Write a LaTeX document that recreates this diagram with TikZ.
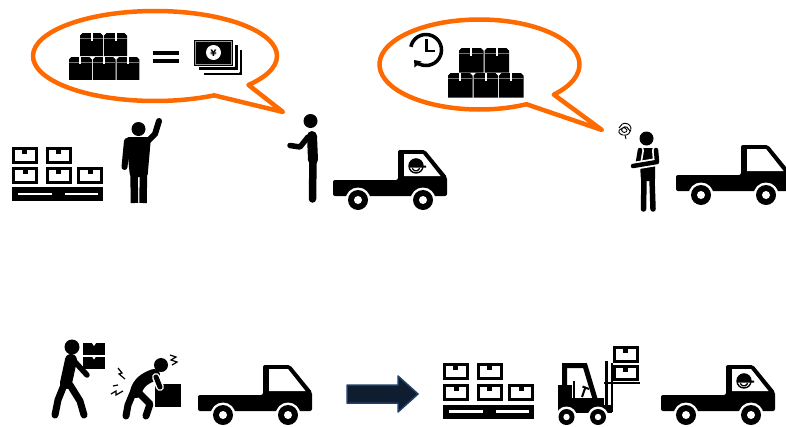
\documentclass[tikz,border=0pt]{standalone}
\usepackage{fontspec}
\newfontfamily\yenfont{DejaVu Sans}
\usetikzlibrary{arrows.meta}
\definecolor{bubbleorange}{HTML}{FF6A00}
\definecolor{navyfill}{HTML}{0F1D30}
\definecolor{navyedge}{HTML}{203F68}

\tikzset{
  speech/.style={draw=bubbleorange,line width=4.5pt,fill=white,line join=round},
  limb/.style={draw=black,line width=#1,line cap=round,line join=round},
  limb/.default=6pt,
  halo/.style={draw=white,line width=#1,line cap=round,line join=round},
  halo/.default=8pt,
  pain/.style={draw=black,line width=1.2pt,line join=miter},
}

% open crate: black frame, white inside, small tab at the top
\newcommand\OpenCrate[4]{%
  \begin{scope}[shift={(#1,#2)}]
    \fill[black] (0,0) rectangle (#3,#4);
    \fill[white] (3,3) rectangle (#3-3,#4-3);
    \fill[black] (#3/2-2.5,3) rectangle (#3/2+2.5,6.5);
  \end{scope}}

% closed carton with lid line and tape mark
\newcommand\ClosedCrate[3]{%
  \begin{scope}[shift={(#1,#2)},scale=#3/23]
    \fill[black] (0,2.5) -- (2.5,0) -- (20.5,0) -- (23,2.5) -- (23,23) -- (0,23) -- cycle;
    \draw[white!45!black,line width=0.8pt] (0.3,5) -- (22.7,5);
    \fill[white] (10.5,0) rectangle (12.5,7.5);
  \end{scope}}

% stacked crates on a pallet
\newcommand\PalletStack[3]{%
  \begin{scope}[shift={(#1,#2)},yscale=#3]
    \OpenCrate{0}{0}{25.5}{16.5}
    \OpenCrate{34}{0}{25.5}{16.5}
    \OpenCrate{0}{20}{26}{17}
    \OpenCrate{33.5}{20}{26}{17}
    \OpenCrate{65}{20}{26}{17}
    \fill[black] (0,40) rectangle (91,54);
    \fill[white] (6,45.5) rectangle (40,48);
    \fill[white] (53,45.5) rectangle (86,48);
  \end{scope}}

% wheel with a white ring and hub
\newcommand\Wheel[3]{%
  \fill[white] (#1,#2) circle[radius=#3+2.5];
  \fill[black] (#1,#2) circle[radius=#3];
  \fill[white] (#1,#2) circle[radius=#3*0.4];}

% pickup truck, origin at the top-left of the bed
\newcommand\Truck[2]{%
  \begin{scope}[shift={(#1,#2)}]
    \fill[black,rounded corners=2pt] (0,0) -- (65,0) -- (65,-30) -- (92,-30)
      -- (114,-3) -- (114,16) -- (0,16) -- cycle;
    \fill[white] (71,-26) -- (90,-26) -- (107.5,-4) -- (71,-4) -- cycle;
    \Wheel{25}{20}{10}
    \Wheel{90}{20}{10}
  \end{scope}}

% driver with a cap, seen through the cab window
\newcommand\Driver[2]{%
  \begin{scope}[shift={(#1,#2)}]
    \fill[white] (83,-14) circle[radius=8.5];
    \draw[black,line width=1.4pt] (83,-14) circle[radius=7];
    \fill[black] (76,-14.5) arc[start angle=180,end angle=360,radius=7]
      -- (93,-14.5) -- (93,-12.5) -- (76,-12.5) -- cycle;
    \draw[black,line width=1.3pt] (83,-13) ++(160:4) arc[start angle=160,end angle=20,radius=4];
  \end{scope}}

\begin{document}
\begin{tikzpicture}[x=1pt,y=-1pt,line join=round]
\useasboundingbox (0,0) rectangle (786,426);
\fill[white] (0,0) rectangle (786,426);

% ---------- speech bubbles ----------
\draw[speech] (155,56) ++(40:122 and 45)
  arc[start angle=40,end angle=-299,x radius=122,y radius=45] -- (283,112) -- cycle;
\draw[speech] (479.5,64.5) ++(42:100 and 45)
  arc[start angle=42,end angle=-298,x radius=100,y radius=45] -- (602,130) -- cycle;

% cartons = money
\ClosedCrate{80}{33}{23}
\ClosedCrate{104}{33}{23}
\ClosedCrate{69}{57}{22.8}
\ClosedCrate{92.8}{57}{22.8}
\ClosedCrate{116.6}{57}{22.8}
\fill[black] (153,51) rectangle (179,55);
\fill[black] (153,58.5) rectangle (179,62.5);
\fill[black,draw=white,line width=2.4pt] (202.5,48.5) rectangle (243.5,76);
\fill[black,draw=white,line width=2.4pt] (198,44) rectangle (239,71.5);
\fill[black,draw=white,line width=1.2pt] (193,39) rectangle (234,66.5);
\draw[white!60!black,line width=0.5pt] (195.5,41.5) rectangle (231.5,64);
\fill[white] (213.5,52.5) circle[radius=7.5];
\node[inner sep=0pt,font=\yenfont\bfseries\fontsize{9}{9}\selectfont] (yen) at (213.5,52.8) {¥};

% clock and cartons
\draw[black,line width=3.5pt,-{Triangle[length=6pt,width=9pt]}]
  (426,50) ++(192:15.5) arc[start angle=192,end angle=500,radius=15.5];
\draw[black,line width=2.6pt,line cap=butt,line join=miter] (426.5,39) -- (426.5,51) -- (435,51);
\ClosedCrate{459}{48}{24.5}
\ClosedCrate{484.5}{48}{24.5}
\ClosedCrate{448}{73}{24.5}
\ClosedCrate{473.5}{73}{24.5}
\ClosedCrate{499}{73}{24.5}

% ---------- upper row ----------
\PalletStack{12}{147}{1}

% waving worker
\fill[black] (138.5,129) circle[radius=7];
\fill[black,rounded corners=3pt] (126,137) -- (151,137) -- (147.5,177) -- (130,177) -- cycle;
\draw[black,line width=7.5pt] (134,172) -- (134.5,203);
\draw[black,line width=7.5pt] (143.5,172) -- (143,203);
\draw[limb=6pt] (127,141) -- (124.5,167);
\draw[limb=6pt] (147,142) -- (155,134) -- (159,121);

% worker handing over
\fill[black] (310.5,121) circle[radius=7];
\draw[limb=10pt] (312,136) -- (313,160);
\draw[limb=7.5pt] (313,158) -- (312.5,199);
\draw[limb=5.5pt] (308,137) -- (300,147) -- (290,145.5);

\Truck{333}{180}
\Driver{333}{180}

% puzzled worker
\draw[black,line width=0.9pt,rounded corners=1.5pt]
  (619,128) -- (623,123) -- (629,124) -- (631.5,129) -- (628,135) -- (621,135)
  -- (618,131) -- (624,127) -- (628,131) -- (623,133) -- (621,129) -- (626,126)
  -- (630,131);
\draw[black,line width=0.9pt] (625,135) -- (626,139);
\fill[black] (646.5,138.5) circle[radius=7];
\fill[black,rounded corners=2pt] (639,148) -- (655,148) -- (655,181) -- (641,181) -- cycle;
\draw[limb=5.5pt] (644,179) -- (643.5,209);
\draw[limb=5.5pt] (652,179) -- (653,209);
\draw[halo=8pt] (637.5,165) -- (640,150);
\draw[limb=4.5pt] (637.5,165) -- (640,150);
\draw[halo=8pt] (656,150) -- (657,162) -- (633,166);
\draw[limb=4.5pt] (656,150) -- (657,162) -- (633,166);

\Truck{676}{175}

% ---------- lower row ----------
% worker carrying cartons
\fill[black] (72,347) circle[radius=7.5];
\draw[limb=12pt] (71,360) -- (66,383);
\draw[limb=7pt] (64,385) -- (58,400) -- (55,415);
\draw[limb=7pt] (70,385) -- (80,401) -- (84,415);
\draw[limb=5.5pt] (75,362) -- (87,375);
\fill[black] (83,343) rectangle (105,355);
\fill[black] (83,356.5) rectangle (105,368.5);
\fill[white] (92,343) -- (96,343) -- (94,346) -- cycle;
\fill[white] (92,356.5) -- (96,356.5) -- (94,359.5) -- cycle;

% worker with back pain
\fill[black] (155,384) rectangle (181,407);
\fill[black] (161,365) circle[radius=7];
\draw[limb=12pt] (154,375) .. controls (145,378) and (138,383) .. (136,392);
\draw[limb=7pt] (133,393) -- (128,405) -- (126,416);
\draw[limb=7pt] (140,394) -- (150,404) -- (146,416);
\draw[halo=8pt] (156,377) -- (160,387);
\draw[limb=5pt] (156,377) -- (160,387);
\draw[pain] (118,368) -- (122,373) -- (119,374) -- (125,379);
\draw[pain] (111,394) -- (116,391) -- (116,395) -- (123,391);
\draw[pain] (113,386) -- (118,385);
\draw[pain] (170,355) -- (176,357) -- (171,360) -- (177,362) -- (172,365);

\Truck{198}{395}

% process arrow
\filldraw[fill=navyfill,draw=navyedge,line width=1.5pt]
  (347,385) -- (398,385) -- (398,376) -- (418,394) -- (398,412) -- (398,403) -- (347,403) -- cycle;

\PalletStack{443}{363}{1.04}

% forklift
\draw[black,line width=5pt,line join=miter] (564.5,405) -- (564.5,365.5) -- (585,365.5) -- (596,402);
\fill[black] (558,398) rectangle (604,413);
\fill[black] (558,385) rectangle (572,400);
\draw[black,line width=2pt] (574,381) -- (574,398);
\draw[black,line width=2pt] (582,397) -- (585.5,387);
\draw[black,line width=2pt] (582.5,386.5) -- (589,389);
\draw[black,line width=3pt] (606,361) -- (606,413);
\draw[black,line width=2pt] (611.5,363) -- (611.5,412);
\draw[black,line width=2.5pt] (604,383) -- (640,383);
\fill[black] (600,405) rectangle (612,413);
\OpenCrate{613}{346}{25.5}{16.5}
\OpenCrate{613}{365}{25.5}{15.5}
\Wheel{566.5}{417}{8}
\Wheel{598}{417}{8}

\Truck{661}{395}
\Driver{661}{395}
\end{tikzpicture}
\end{document}
